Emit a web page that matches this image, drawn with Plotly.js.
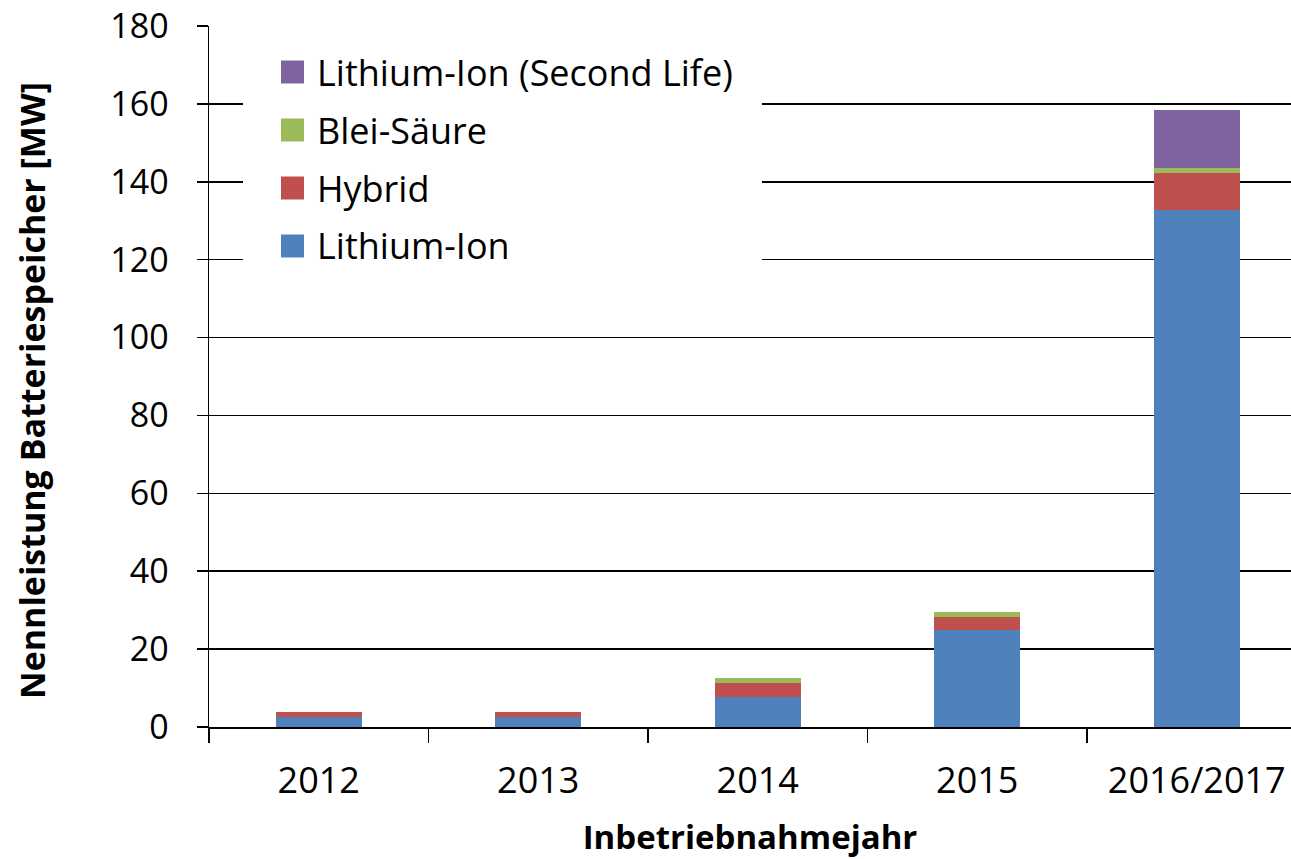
<!DOCTYPE html>
<html>
<head>
<meta charset="utf-8">
<script src="https://cdn.plot.ly/plotly-3.0.1.min.js"></script>
<style>
  html, body { margin: 0; padding: 0; background: #fff; overflow: hidden; }
  #chart { width: 1291px; height: 859px; }
</style>
</head>
<body>
<div id="chart"></div>
<script>
const categories = ["2012", "2013", "2014", "2015", "2016/2017"];
const lithiumIon = [2.6, 2.6, 7.8, 24.9, 132.8];
const hybrid = [1.3, 1.3, 3.4, 3.3, 9.4];
const bleiSaeure = [0, 0, 1.3, 1.4, 1.3];
const secondLife = [0, 0, 0, 0, 15.0];
const seriesNames = ["Lithium-Ion", "Hybrid", "Blei-Säure", "Lithium-Ion (Second Life)"];
const seriesColors = ["#4F81BD", "#C0504D", "#9BBB59", "#8064A2"];
const yTicks = [0, 20, 40, 60, 80, 100, 120, 140, 160, 180];
const xTitle = "Inbetriebnahmejahr";
const yTitle = "Nennleistung Batteriespeicher [MW]";

const seriesValues = [lithiumIon, hybrid, bleiSaeure, secondLife];
const FONT = "Open Sans, sans-serif";

const traces = seriesValues.map((vals, i) => ({
  type: "bar",
  name: seriesNames[i],
  x: categories,
  y: vals,
  width: 0.39,
  marker: { color: seriesColors[i], line: { width: 0 } },
  showlegend: false
}));

// plot area geometry (px) for paper conversion
const L = 209, T = 26, B = 132, W = 1291, H = 859;
const pw = W - L, ph = H - T - B;
const px = v => (v - L) / pw;
const py = v => (H - B - v) / ph;

const shapes = [{
  type: "rect", xref: "paper", yref: "paper", layer: "above",
  x0: px(243), x1: px(762), y0: py(290), y1: py(36),
  fillcolor: "#ffffff", line: { width: 0 }
}];
const annotations = [];
const legendOrder = [3, 2, 1, 0];
const rowY = [72, 130, 188, 246];
legendOrder.forEach((si, r) => {
  shapes.push({
    type: "rect", xref: "paper", yref: "paper", layer: "above",
    x0: px(281), x1: px(304), y0: py(rowY[r] + 11.5), y1: py(rowY[r] - 11.5),
    fillcolor: seriesColors[si], line: { width: 0 }
  });
  annotations.push({
    xref: "paper", yref: "paper", x: px(315), y: py(rowY[r]),
    xanchor: "left", yanchor: "middle", showarrow: false,
    text: seriesNames[si], font: { family: FONT, size: 36, color: "#000" }
  });
});
annotations.push({
  xref: "paper", yref: "paper", x: px(32), y: py(391),
  xanchor: "center", yanchor: "middle", showarrow: false, textangle: -90,
  text: "<b>" + yTitle + "</b>", font: { family: FONT, size: 34, color: "#000" }
});

const layout = {
  width: W, height: H,
  margin: { l: L, r: 0, t: T, b: B, pad: 0 },
  paper_bgcolor: "#ffffff", plot_bgcolor: "#ffffff",
  barmode: "stack",
  showlegend: false,
  font: { family: FONT, color: "#000" },
  xaxis: {
    type: "category",
    range: [-0.5, -0.5 + pw / 219.5],
    tickson: "boundaries",
    ticks: "outside", ticklen: 14, tickwidth: 1.5, tickcolor: "#000",
    showline: true, linecolor: "#000", linewidth: 1.5,
    showgrid: false, zeroline: false,
    tickfont: { family: FONT, size: 36, color: "#000" },
    ticklabelstandoff: 21,
    title: { text: "<b>" + xTitle + "</b>", font: { family: FONT, size: 33, color: "#000" }, standoff: 26 },
    fixedrange: true
  },
  yaxis: {
    range: [0, 180],
    tickvals: yTicks,
    ticktext: yTicks.map(String),
    ticks: "outside", ticklen: 11, tickwidth: 1.5, tickcolor: "#000",
    showline: true, linecolor: "#000", linewidth: 1.5,
    showgrid: true, gridcolor: "#000", gridwidth: 1.5,
    zeroline: false,
    tickfont: { family: FONT, size: 34, color: "#000" },
    ticklabelstandoff: 21,
    fixedrange: true
  },
  shapes: shapes,
  annotations: annotations
};

Plotly.newPlot("chart", traces, layout, { displayModeBar: false, staticPlot: true });
</script>
</body>
</html>
